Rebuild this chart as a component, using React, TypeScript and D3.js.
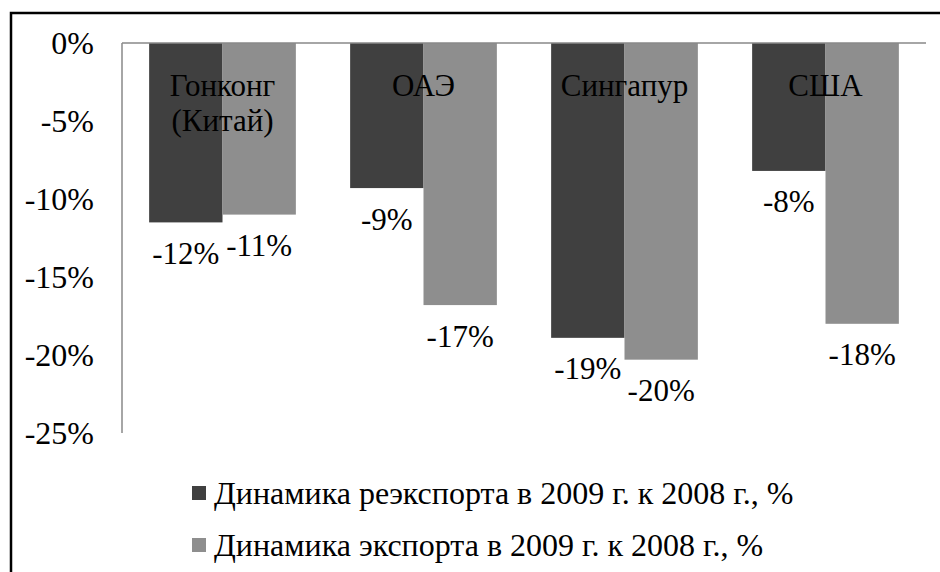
import { useEffect } from "react";
import * as d3 from "d3";

const categories = ["Гонконг\n(Китай)", "ОАЭ", "Сингапур", "США"];
const reexport = [-11.5, -9.3, -18.9, -8.2];
const exportDyn = [-11.0, -16.8, -20.3, -18.0];
const reexportLabels = ["-12%", "-9%", "-19%", "-8%"];
const exportLabels = ["-11%", "-17%", "-20%", "-18%"];
const seriesNames = [
  "Динамика реэкспорта в 2009 г. к 2008 г., %",
  "Динамика экспорта в 2009 г. к 2008 г., %",
];
const yTicks = [0, -5, -10, -15, -20, -25];

const colors = ["#404040", "#8e8e8e"];
const font = '"Liberation Serif", "Times New Roman", "DejaVu Serif", serif';

export default function App() {
  useEffect(() => {
    document.body.style.margin = "0";
  }, []);

  const width = 940;
  const height = 572;

  const x = d3
    .scaleBand()
    .domain(categories)
    .range([122, 926])
    .paddingInner(0.27)
    .paddingOuter(0.135);
  const xs = d3.scaleBand().domain(["0", "1"]).range([0, x.bandwidth()]);
  const y = d3.scaleLinear().domain([0, -25]).range([43, 433]);

  const series = [
    { values: reexport, labels: reexportLabels },
    { values: exportDyn, labels: exportLabels },
  ];

  return (
    <svg width={width} height={height} style={{ display: "block", fontFamily: font }}>
      <rect x={0} y={0} width={width} height={height} fill="#fff" />
      <path d={`M11,${height + 5}V13H${width + 5}`} fill="none" stroke="#000" strokeWidth={2.5} />

      {series.map((s, si) =>
        s.values.map((v, i) => {
          const bx = (x(categories[i]) as number) + (xs(String(si)) as number);
          return (
            <g key={`${si}-${i}`}>
              <rect
                x={bx}
                y={y(0)}
                width={xs.bandwidth()}
                height={y(v) - y(0)}
                fill={colors[si]}
              />
              <text
                x={bx + xs.bandwidth() / 2}
                y={y(v) + 31}
                textAnchor="middle"
                dominantBaseline="central"
                fontSize={31}
              >
                {s.labels[i]}
              </text>
            </g>
          );
        })
      )}

      <line x1={122} x2={926} y1={y(0)} y2={y(0)} stroke="#888" strokeWidth={1.5} />
      <line x1={122} x2={122} y1={y(0)} y2={y(-25)} stroke="#888" strokeWidth={1.5} />

      {yTicks.map((t) => (
        <text key={t} x={94} y={y(t)} textAnchor="end" dominantBaseline="central" fontSize={32}>
          {`${t}%`}
        </text>
      ))}

      {categories.map((c) => {
        const cx = (x(c) as number) + x.bandwidth() / 2;
        return c.split("\n").map((line, li) => (
          <text
            key={c + li}
            x={cx}
            y={85 + li * 35}
            textAnchor="middle"
            dominantBaseline="central"
            fontSize={31}
          >
            {line}
          </text>
        ));
      })}

      {seriesNames.map((n, i) => (
        <g key={n} transform={`translate(192,${493 + i * 52})`}>
          <rect x={0} y={-7} width={14} height={14} fill={colors[i]} />
          <text x={22} y={0} dominantBaseline="central" fontSize={32}>
            {n}
          </text>
        </g>
      ))}
    </svg>
  );
}
